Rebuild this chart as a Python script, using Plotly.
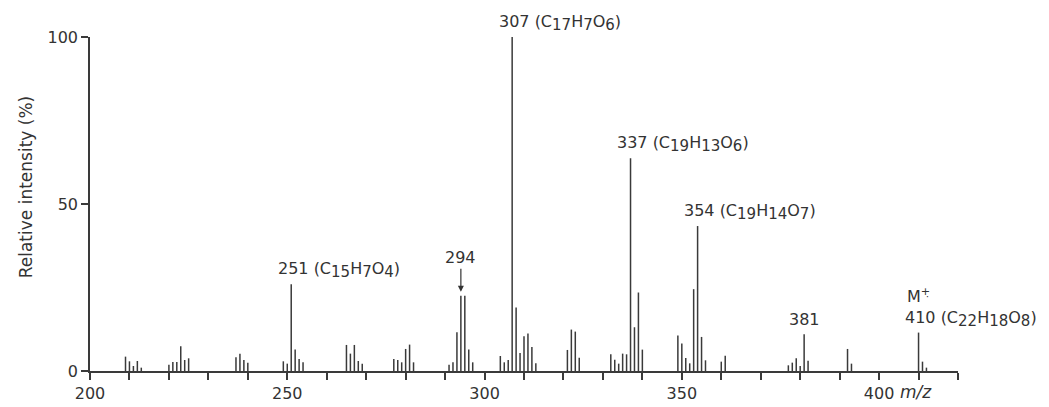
import plotly.graph_objects as go

# ---- data (m/z, relative intensity %) ----
mz = [209, 210, 211, 212, 213,
      220, 221, 222, 223, 224, 225,
      237, 238, 239, 240,
      249, 250, 251, 252, 253, 254,
      265, 266, 267, 268, 269,
      277, 278, 279, 280, 281, 282,
      291, 292, 293, 294, 295, 296, 297,
      304, 305, 306, 307, 308, 309, 310, 311, 312, 313,
      321, 322, 323, 324,
      332, 333, 334, 335, 336, 337, 338, 339, 340,
      349, 350, 351, 352, 353, 354, 355, 356,
      360, 361,
      377, 378, 379, 380, 381, 382,
      392, 393,
      410, 411, 412]
intensity = [4.3, 2.9, 1.5, 3.0, 1.0,
             1.9, 2.7, 2.7, 7.4, 3.3, 3.8,
             4.1, 5.2, 3.3, 2.5,
             2.9, 2.2, 26.0, 6.4, 3.6, 2.6,
             7.8, 5.2, 7.8, 3.0, 2.2,
             3.6, 3.3, 2.6, 6.6, 7.9, 2.6,
             1.9, 2.6, 11.6, 22.5, 22.5, 6.4, 2.6,
             4.5, 2.6, 3.3, 100.0, 19.0, 5.4, 10.4, 11.2, 7.2, 2.3,
             6.3, 12.4, 11.8, 4.0,
             5.0, 3.4, 2.2, 5.2, 5.0, 63.7, 13.1, 23.5, 6.4,
             10.6, 8.2, 3.9, 2.3, 24.5, 43.4, 10.2, 3.2,
             2.8, 4.6,
             1.7, 2.5, 3.8, 1.5, 11.0, 3.1,
             6.6, 2.2,
             11.5, 2.8, 1.0]

# labelled peaks: m/z and elemental composition (C, H, O counts)
label_mz = [251, 307, 337, 354, 410]
label_C = [15, 17, 19, 19, 22]
label_H = [7, 7, 13, 14, 18]
label_O = [4, 6, 6, 7, 8]
plain_label_mz = [381]
arrow_mz = 294
x_tick_vals = [200, 250, 300, 350, 400]
x_tick_text = ["200", "250", "300", "350", "400"]
y_tick_vals = [0, 50, 100]

FONT = "DejaVu Sans"
INK = "#333333"
LINE = "#3a3a3a"
AFS = 16          # annotation font size
SUBFS = 15        # subscript digit size (full-size look of the original)


def sub(n):
    return "<sub><span style='font-size:%dpx'>%d</span></sub>" % (SUBFS, n)


def formula(m, c, h, o):
    return "%d (C%sH%sO%s)" % (m, sub(c), sub(h), sub(o))


xs, ys = [], []
for m, v in zip(mz, intensity):
    xs += [m, m, None]
    ys += [0, v, None]

fig = go.Figure()
fig.add_trace(go.Scatter(x=xs, y=ys, mode="lines",
                         line=dict(color=LINE, width=1.5),
                         hoverinfo="skip", showlegend=False))

inten = dict(zip(mz, intensity))
annotations = []
for m, c, h, o in zip(label_mz, label_C, label_H, label_O):
    annotations.append(dict(
        x=m, y=inten[m], xref="x", yref="y", text=formula(m, c, h, o),
        showarrow=False, xanchor="left", xshift=-15.5,
        yanchor="bottom", yshift=1,
        font=dict(family=FONT, size=AFS, color=INK)))
for m in plain_label_mz:
    annotations.append(dict(
        x=m, y=inten[m], xref="x", yref="y", text=str(m), showarrow=False,
        xanchor="center", yanchor="bottom", yshift=3,
        font=dict(family=FONT, size=AFS, color=INK)))

# M+. above the molecular ion
annotations.append(dict(
    x=410, y=inten[410], xref="x", yref="y", text="M<sup>+̣</sup>",
    showarrow=False, xanchor="center", yanchor="bottom", yshift=25,
    font=dict(family=FONT, size=AFS, color=INK)))

# 294 with arrow
annotations.append(dict(
    x=arrow_mz, y=inten[arrow_mz], xref="x", yref="y", text="294",
    showarrow=True, ax=0, ay=-38, arrowhead=2, arrowsize=1, arrowwidth=1.2,
    arrowcolor=INK, standoff=4,
    font=dict(family=FONT, size=AFS, color=INK)))

# m/z after 400
annotations.append(dict(
    x=400, y=0, xref="x", yref="y", text="<i>m/z</i>", showarrow=False,
    xanchor="left", xshift=19, yanchor="top", yshift=-9,
    font=dict(family=FONT, size=17, color=INK)))

# y-axis title
annotations.append(dict(
    x=0, y=0.55, xref="paper", yref="paper", text="Relative intensity (%)",
    showarrow=False, textangle=-90, xanchor="center", yanchor="middle",
    xshift=-64, font=dict(family=FONT, size=17, color=INK)))

fig.update_layout(
    width=1049, height=407,
    margin=dict(l=82, r=99, t=29, b=26),
    paper_bgcolor="white", plot_bgcolor="white",
    font=dict(family=FONT, size=16, color=INK),
    annotations=annotations,
    xaxis=dict(range=[200, 420], showgrid=False, zeroline=False,
               showline=True, linecolor=LINE, linewidth=1.5,
               tickmode="array", tickvals=x_tick_vals, ticktext=x_tick_text,
               ticks="outside", ticklen=7, tickwidth=1.5, tickcolor=LINE,
               minor=dict(dtick=10, tick0=200, ticks="outside", ticklen=7,
                          tickwidth=1.5, tickcolor=LINE, showgrid=False),
               tickfont=dict(family=FONT, size=16, color=INK)),
    yaxis=dict(range=[0, 100], showgrid=False, zeroline=False,
               showline=True, linecolor=LINE, linewidth=1.5,
               tickmode="array", tickvals=y_tick_vals,
               ticks="outside", ticklen=7, tickwidth=1.5, tickcolor=LINE,
               tickfont=dict(family=FONT, size=16, color=INK)),
)

fig.write_html("out.html")
